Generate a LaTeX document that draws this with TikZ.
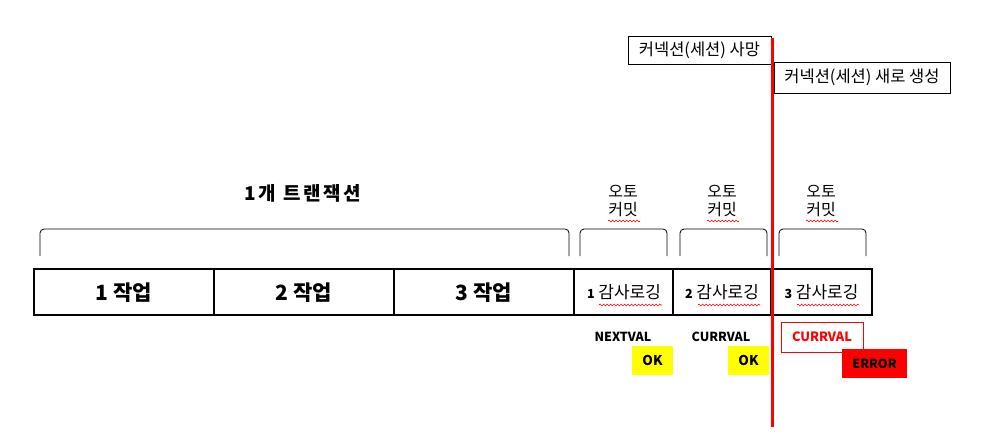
\documentclass[tikz,border=0pt]{standalone}
\usepackage{fontspec}
\setmainfont{Noto Sans CJK KR}
\usetikzlibrary{decorations.pathmorphing}
\definecolor{pured}{RGB}{255,0,0}
\definecolor{puyel}{RGB}{255,255,0}
\tikzset{
  cell/.style={draw=black, line width=2.4pt, minimum height=46pt, inner sep=0pt, anchor=center},
  brk/.style={draw=black, line width=0.8pt, rounded corners=4pt},
  lbl/.style={inner sep=0pt, align=center},
  cbox/.style={draw=black, line width=0.9pt, inner sep=0pt, fill=white},
  okbox/.style={fill=puyel, inner sep=0pt, minimum width=41pt, minimum height=29pt, font=\fontsize{13.5}{15}\selectfont\bfseries},
  squig/.style={draw=pured, line width=0.6pt, decorate, decoration={snake, amplitude=0.9pt, segment length=3.5pt}},
  redline/.style={draw=pured, line width=3pt}
}
\begin{document}
\begin{tikzpicture}[x=1pt,y=-1pt]
\useasboundingbox (0,0) rectangle (1005,445);
% bar cells
\node[cell, minimum width=180pt] (w1) at (124,292) {};
\node[cell, minimum width=180pt] (w2) at (304,292) {};
\node[cell, minimum width=180pt] (w3) at (484,292) {};
\node[cell, minimum width=99pt] (a1) at (623.5,292) {};
\node[cell, minimum width=98pt] (a2) at (722,292) {};
\node[cell, minimum width=101pt] (a3) at (821.5,292) {};
% cell texts
\node[lbl, font=\fontsize{21}{24}\selectfont\bfseries] (t1) at (124,293) {1 작업};
\node[lbl, font=\fontsize{21}{24}\selectfont\bfseries] (t2) at (304,293) {2 작업};
\node[lbl, font=\fontsize{21}{24}\selectfont\bfseries] (t3) at (484,293) {3 작업};
\node[lbl, font=\fontsize{17}{20}\selectfont] (g1) at (624,292) {{\fontsize{12.5}{14}\selectfont\bfseries 1} 감사로깅};
\node[lbl, font=\fontsize{17}{20}\selectfont] (g2) at (722,292) {{\fontsize{12.5}{14}\selectfont\bfseries 2} 감사로깅};
\node[lbl, font=\fontsize{17}{20}\selectfont] (g3) at (821.5,292) {{\fontsize{12.5}{14}\selectfont\bfseries 3} 감사로깅};
\path[squig] (599,305) -- (662,305);
\path[squig] (698,305) -- (760,305);
\path[squig] (797,305) -- (859,305);
% braces
\draw[brk] (40,256) -- (40,229) -- (569,229) -- (569,256);
\draw[brk] (580,256) -- (580,229) -- (667,229) -- (667,256);
\draw[brk] (680,256) -- (680,229) -- (767,229) -- (767,256);
\draw[brk] (779,256) -- (779,229) -- (866,229) -- (866,256);
% labels above
\node[lbl, font=\fontsize{19}{22}\selectfont\bfseries\addfontfeature{LetterSpace=14}] (title) at (303,193) {1개 트랜잭션};
\node[lbl, font=\fontsize{16}{18}\selectfont] (c1) at (623,201) {오토\\커밋};
\node[lbl, font=\fontsize{16}{18}\selectfont] (c2) at (722,201) {오토\\커밋};
\node[lbl, font=\fontsize{16}{18}\selectfont] (c3) at (821,201) {오토\\커밋};
\path[squig] (608,221) -- (640,221);
\path[squig] (707,221) -- (739,221);
\path[squig] (806,221) -- (838,221);
% connection boxes
\node[cbox, minimum width=143pt, minimum height=28pt, font=\fontsize{16.5}{19}\selectfont] (dead) at (699.5,50) {커넥션(세션) 사망};
\node[cbox, minimum width=176pt, minimum height=31pt, font=\fontsize{16.5}{19}\selectfont] (new) at (862,77.5) {커넥션(세션) 새로 생성};
% bottom labels
\node[lbl, font=\fontsize{12.5}{14}\selectfont\bfseries] (nv) at (623,337) {NEXTVAL};
\node[lbl, font=\fontsize{12.5}{14}\selectfont\bfseries] (cv) at (721,337) {CURRVAL};
\node[okbox] (ok1) at (652.5,360) {OK};
\node[okbox] (ok2) at (748.5,360) {OK};
\node[draw=pured, line width=0.9pt, minimum width=82pt, minimum height=30pt, inner sep=0pt, text=pured, font=\fontsize{12.8}{14}\selectfont\bfseries] (cv3) at (822,337) {CURRVAL};
\node[fill=pured, minimum width=65pt, minimum height=29pt, inner sep=0pt, font=\fontsize{12.5}{14}\selectfont\bfseries] (err) at (874.5,363.5) {ERROR};
% red line
\coordinate (rtop) at (772,38);
\coordinate (rbot) at (772,427);
\draw[redline] (rtop) -- (rbot);
\end{tikzpicture}
\end{document}
